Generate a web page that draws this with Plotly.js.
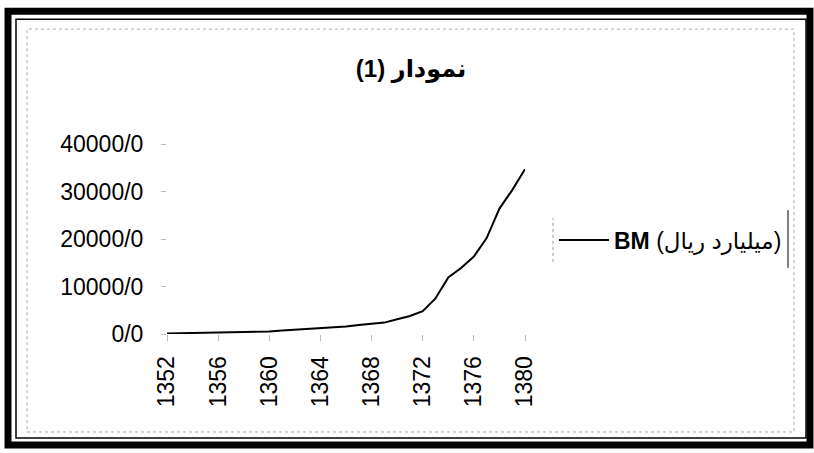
<!DOCTYPE html>
<html>
<head>
<meta charset="utf-8">
<script src="https://cdn.plot.ly/plotly-3.0.1.min.js"></script>
<style>html,body{margin:0;padding:0;background:#fff;}#chart{width:814px;height:453px;}</style>
</head>
<body>
<div id="chart"></div>
<script>
// Data
const years = [1352,1353,1354,1355,1356,1357,1358,1359,1360,1361,1362,1363,1364,1365,1366,1367,1368,1369,1370,1371,1372,1373,1374,1375,1376,1377,1378,1379,1380];
const bmValues = [100,150,200,300,350,400,450,500,550,750,900,1000,1150,1350,1600,1900,2200,2400,3100,3800,4800,7500,11900,13900,16300,20200,26400,30300,34700];
const seriesName = '<b>BM</b> (میلیارد ریال)';
const chartTitle = 'نمودار (1)';
const yTickVals = [0,10000,20000,30000,40000];
const yTickText = ['0/0','10000/0','20000/0','30000/0','40000/0'];
const xTickVals = [1352,1356,1360,1364,1368,1372,1376,1380];

const W = 814, H = 453;
const L = 167, R = 525, T = 143.5, B = 334.5;
const px = x => (x - L) / (R - L);
const py = y => (B - y) / (B - T);

function rect(x0, y0, x1, y1, color, width, dash) {
  return {type:'rect', xref:'paper', yref:'paper', x0:px(x0), x1:px(x1), y0:py(y1), y1:py(y0),
          line:{color:color, width:width, dash:dash||'solid'}, fillcolor:'rgba(0,0,0,0)', layer:'below'};
}
function vline(x, y0, y1, color, width, dash) {
  return {type:'line', xref:'paper', yref:'paper', x0:px(x), x1:px(x), y0:py(y1), y1:py(y0),
          line:{color:color, width:width, dash:dash||'solid'}};
}

const trace = {
  x: years, y: bmValues, type:'scatter', mode:'lines', name: seriesName,
  line:{color:'#000', width:2}
};

const layout = {
  width:W, height:H,
  margin:{l:L, r:W-R, t:T, b:H-B, pad:0},
  paper_bgcolor:'#fff', plot_bgcolor:'#fff',
  font:{family:'"Liberation Sans", Arial, "DejaVu Sans", sans-serif', color:'#000', size:22},
  title:{text:'<b>'+chartTitle+'</b>', x:0.505, xref:'container', y:1-69/H, yref:'container', yanchor:'middle', xanchor:'center',
         font:{size:24, family:'"Liberation Sans", Arial, "DejaVu Sans", sans-serif', color:'#000'}},
  xaxis:{range:[1352,1380], tickvals:xTickVals, tickangle:-90, showgrid:false, zeroline:false, showline:false,
         ticks:'outside', ticklen:6, tickcolor:'#bbb', tickwidth:1, tickfont:{size:23}, ticklabelstandoff:6},
  yaxis:{range:[0,40000], tickvals:yTickVals, ticktext:yTickText, showgrid:false, zeroline:false, showline:false,
         ticks:'outside', ticklen:5, tickcolor:'#bbb', tickwidth:1, tickfont:{size:23}, ticklabelstandoff:13},
  showlegend:true,
  legend:{x:px(554), xanchor:'left', y:py(240), yanchor:'middle', bgcolor:'rgba(0,0,0,0)', borderwidth:0,
          itemwidth:50,
          font:{size:23, family:'"Liberation Sans", Arial, "DejaVu Sans", sans-serif'}},
  shapes:[
    rect(8, 10, 810, 446, '#000', 7),
    rect(16, 18, 806, 439, '#000', 1.5),
    rect(27, 28, 794, 433, '#aaa', 1, 'dot'),
    vline(553, 218, 262, '#999', 1, 'dot'),
    vline(788, 210, 268, '#000', 1)
  ]
};

Plotly.newPlot('chart', [trace], layout, {displayModeBar:false, staticPlot:true});
</script>
</body>
</html>
